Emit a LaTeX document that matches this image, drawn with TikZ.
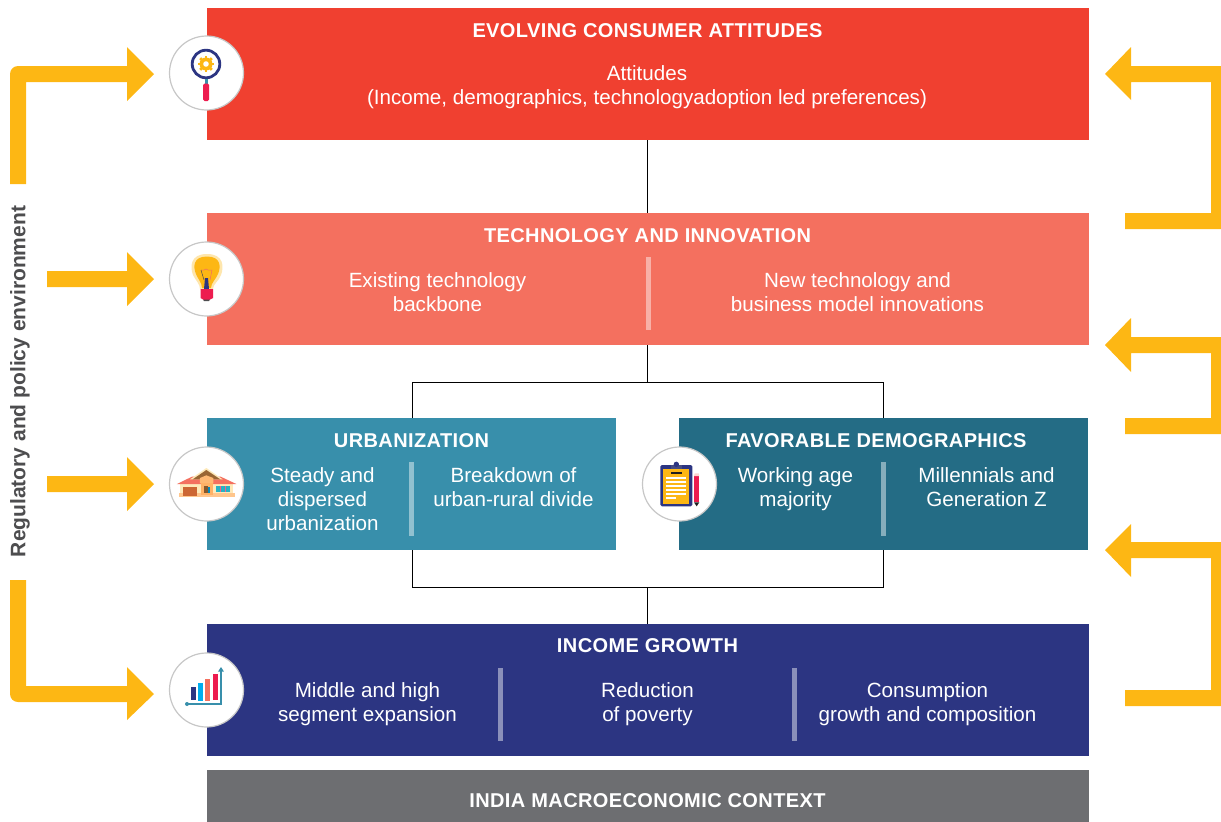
\documentclass[tikz,border=0pt]{standalone}
\usepackage{fontspec}
\setmainfont{Liberation Sans}
\newfontfamily\headfont[LetterSpace=2]{Liberation Sans}
\definecolor{cyel}{HTML}{FDB714}
\definecolor{cred}{HTML}{F04030}
\definecolor{csal}{HTML}{F4705F}
\definecolor{cteal}{HTML}{388FAB}
\definecolor{cdteal}{HTML}{246C85}
\definecolor{cnavy}{HTML}{2C3582}
\definecolor{cgray}{HTML}{6D6E71}
\definecolor{cpink}{HTML}{ED1C4F}
\definecolor{ctxt}{HTML}{4D4D4F}
\definecolor{cblue}{HTML}{00AEEF}
\tikzset{
 x=1pt,y=-1pt,
 box/.style={minimum width=#1,inner sep=0pt,outer sep=0pt,anchor=north west,draw=none},
 head/.style={text=white,font=\headfont\bfseries\fontsize{20}{24}\selectfont,inner sep=0pt},
 body/.style={text=white,font=\fontsize{20.6}{24}\selectfont,align=center,inner sep=0pt},
 yarrow/.style={fill=cyel,draw=none},
 link/.style={draw=black,line width=0.9pt},
 badge/.style={circle,fill=white,draw=black!22,line width=1.2pt,minimum size=74pt,inner sep=0pt},
 divider/.style={fill=white,fill opacity=.45,draw=none},
}
\begin{document}
\begin{tikzpicture}
\useasboundingbox (0,0) rectangle (1221,822);
% boxes
\node[box=882pt,minimum height=132pt,fill=cred] (b1) at (207,8) {};
\node[box=882pt,minimum height=132pt,fill=csal] (b2) at (207,213) {};
\node[box=409pt,minimum height=132pt,fill=cteal] (b3) at (207,418) {};
\node[box=409pt,minimum height=132pt,fill=cdteal] (b4) at (679,418) {};
\node[box=882pt,minimum height=132pt,fill=cnavy] (b5) at (207,624) {};
\node[box=882pt,minimum height=52pt,fill=cgray] (b6) at (207,770) {};
% connectors
\coordinate (j1) at (647,382);
\coordinate (j2) at (647,587);
\coordinate (la) at (412,0);
\coordinate (lb) at (883,0);
\draw[link] (b1.south -| j1) -- (b2.north -| j1);
\draw[link] (b2.south -| j1) -- (j1);
\draw[link] (b3.north -| la) -- (j1 -| la) -- (j1 -| lb) -- (b4.north -| lb);
\draw[link] (b3.south -| la) -- (j2 -| la) -- (j2 -| lb) -- (b4.south -| lb);
\draw[link] (j2) -- (b5.north -| j2);
% dividers
\fill[divider] (646,257) rectangle (650.5,330);
\fill[divider] (409,462) rectangle (414,536);
\fill[divider] (881,462) rectangle (886,536);
\fill[divider] (498,668) rectangle (503,741);
\fill[divider] (792,668) rectangle (797,741);
% texts
\node[head] (t1) at (647.5,30.5) {EVOLVING CONSUMER ATTITUDES};
\node[body] (t1b) at (647,87) {Attitudes\\(Income, demographics, technologyadoption led preferences)};
\node[head] (t2) at (647.5,235.5) {TECHNOLOGY AND INNOVATION};
\node[body] (t2a) at (437.5,292) {Existing technology\\backbone};
\node[body] (t2b) at (857.5,292) {New technology and\\business model innovations};
\node[head] (t3) at (411.5,440.5) {URBANIZATION};
\node[body] (t3a) at (322.5,499) {Steady and\\dispersed\\urbanization};
\node[body] (t3b) at (513.5,487) {Breakdown of\\urban-rural divide};
\node[head] (t4) at (876,440.5) {FAVORABLE DEMOGRAPHICS};
\node[body] (t4a) at (795.5,489) {Working age\\majority};
\node[body] (t4b) at (986.5,487) {Millennials and\\Generation Z};
\node[head] (t5) at (647.5,645.5) {INCOME GROWTH};
\node[body] (t5a) at (367.5,704) {Middle and high\\segment expansion};
\node[body] (t5b) at (647.5,704) {Reduction\\of poverty};
\node[body] (t5c) at (927.5,704) {Consumption\\growth and composition};
\node[head] (t6) at (647.5,800.5) {INDIA MACROECONOMIC CONTEXT};
\node[rotate=90,text=ctxt,font=\bfseries\fontsize{21}{24}\selectfont,inner sep=0pt] (side) at (20,381.5) {Regulatory and policy environment};
% yellow arrows, left
\fill[yarrow] (10,184) -- (10,74) .. controls (10,69.6) and (13.6,66) .. (18,66) -- (127,66) -- (127,47) -- (154,74) -- (127,101) -- (127,82) -- (26,82) -- (26,184) -- cycle;
\fill[yarrow] (47,271) -- (127,271) -- (127,252) -- (154,279) -- (127,306) -- (127,287) -- (47,287) -- cycle;
\fill[yarrow] (47,476) -- (127,476) -- (127,457) -- (154,484) -- (127,511) -- (127,492) -- (47,492) -- cycle;
\fill[yarrow] (10,580) -- (10,694) .. controls (10,698.4) and (13.6,702) .. (18,702) -- (127,702) -- (127,720) -- (154,694) -- (127,667) -- (127,686) -- (26,686) -- (26,580) -- cycle;
% yellow arrows, right
\fill[yarrow] (1125,213) -- (1211,213) -- (1211,82) -- (1131,82) -- (1131,100) -- (1105,74) -- (1131,47) -- (1131,66) -- (1221,66) -- (1221,229) -- (1125,229) -- cycle;
\fill[yarrow] (1125,418) -- (1211,418) -- (1211,353) -- (1131,353) -- (1131,372) -- (1105,345) -- (1131,318) -- (1131,337) -- (1221,337) -- (1221,434) -- (1125,434) -- cycle;
\fill[yarrow] (1125,690) -- (1211,690) -- (1211,558) -- (1131,558) -- (1131,577) -- (1105,550) -- (1131,524) -- (1131,542) -- (1221,542) -- (1221,706) -- (1125,706) -- cycle;
% badges
\node[badge] (c1) at (206.5,73) {};
\node[badge] (c2) at (206.5,279) {};
\node[badge] (c3) at (206.5,484) {};
\node[badge] (c4) at (206.5,690) {};
\node[badge] (c5) at (679.5,484) {};
% magnifier
\fill[cyel] (206,64) circle (6.5);
\foreach \a in {0,45,...,315}{\fill[cyel,shift={(206,64)},rotate=\a] (-1.3,-8.3) rectangle (1.3,0);}
\fill[white] (206,64) circle (2.8);
\draw[cnavy,line width=2.8pt] (206,64) circle (13.8);
\fill[cteal] (204.5,79) rectangle (207.5,84);
\fill[cpink,rounded corners=1.5pt] (203,83.5) -- (209,83.5) -- (209,101) -- (203,101) -- cycle;
% bulb
\fill[cyel!35] (207,254) .. controls (190,254) and (190,267) .. (193,275) .. controls (196,281) and (200,284) .. (200,289) -- (213,289) .. controls (213,284) and (219,281) .. (221,275) .. controls (224,267) and (224,254) .. (207,254) -- cycle;
\fill[cyel] (207,256.5) .. controls (193,256.5) and (193,267) .. (196,274) .. controls (198,279) and (202,283) .. (202,288) -- (211,288) .. controls (211,283) and (216,279) .. (218,274) .. controls (221,267) and (221,256.5) .. (207,256.5) -- cycle;
\draw[csal,line width=.5pt] (201,270) -- (204,270) -- (206,269) -- (208,270) -- (212,270) -- (210,280);
\draw[ctxt,line width=.5pt] (201,270) -- (204,280);
\fill[cnavy] (205,278) -- (208,278) -- (209,289) -- (204,289) -- cycle;
\fill[cpink] (200.5,289) -- (213,289) -- (213,298) -- (209,300) -- (204,300) -- (200.5,298) -- cycle;
\fill[ctxt] (203,299.5) -- (210,299.5) -- (209,301) -- (204,301) -- cycle;
% house
\begin{scope}[shift={(0,430)},x=1/3pt,y=-1/3pt]
\fill[cyel!30] (540,160) rectangle (700,195);
\fill[csal] (531,162) -- (576,140) -- (662,140) -- (709,162) -- cycle;
\fill[orange!45!white] (537,190) rectangle (705,201);
\fill[cyel!30] (619,114) -- (668,148) -- (570,148) -- cycle;
\fill[brown!80!black] (619,120) -- (661,148) -- (578,148) -- cycle;
\fill[brown!80!red] (548,172) rectangle (592,199);
\fill[orange!55!white] (600,144) -- (619,136) -- (640,144) -- (640,160) -- (600,160) -- cycle;
\fill[orange!60!white] (602,160) rectangle (638,195);
\fill[brown!70!black] (611,167) rectangle (624,190);
\fill[cblue!80!black] (624,170) rectangle (630,190);
\fill[cteal!70!cyan] (647,167) rectangle (690,187);
\fill[cpink!70] (660,167) rectangle (663,187);
\fill[cpink!70] (675,167) rectangle (678,187);
\end{scope}
% chart
\begin{scope}[shift={(0,430)},x=1/3pt,y=-1/3pt]
\fill[cnavy] (573,771) rectangle (588,810);
\fill[cblue] (594,759) rectangle (609,813);
\fill[csal] (615,747) rectangle (630,813);
\fill[cpink] (639,732) rectangle (654,810);
\draw[cteal,line width=1.8pt] (561,822) -- (663,822) -- (663,722);
\fill[cteal] (561,822) circle (6);
\fill[cteal] (654,725) -- (663,711) -- (672,725) -- cycle;
\end{scope}
% clipboard
\begin{scope}[shift={(630,440)},x=1/3pt,y=-1/3pt]
\fill[cnavy,rounded corners=1.5pt] (91,75) rectangle (187,199);
\fill[cyel] (100,87) rectangle (178,192);
\fill[cnavy!70!gray] (123,75) rectangle (156,87);
\fill[cnavy] (139,73) circle (8);
\fill[ctxt!40!black] (123,96) rectangle (156,102);
\foreach \yy/\xe in {110/168,122/168,134/168,146/168,158/168,170/138}{\fill[white] (108,\yy) rectangle (\xe,\yy+6.5);}
\fill[cpink] (192,108) rectangle (208,187);
\fill[csal!30] (194,100) -- (206,100) -- (208,108) -- (192,108) -- cycle;
\fill[ctxt!40!black] (192,187) -- (208,187) -- (200,199) -- cycle;
\end{scope}
\end{tikzpicture}
\end{document}
